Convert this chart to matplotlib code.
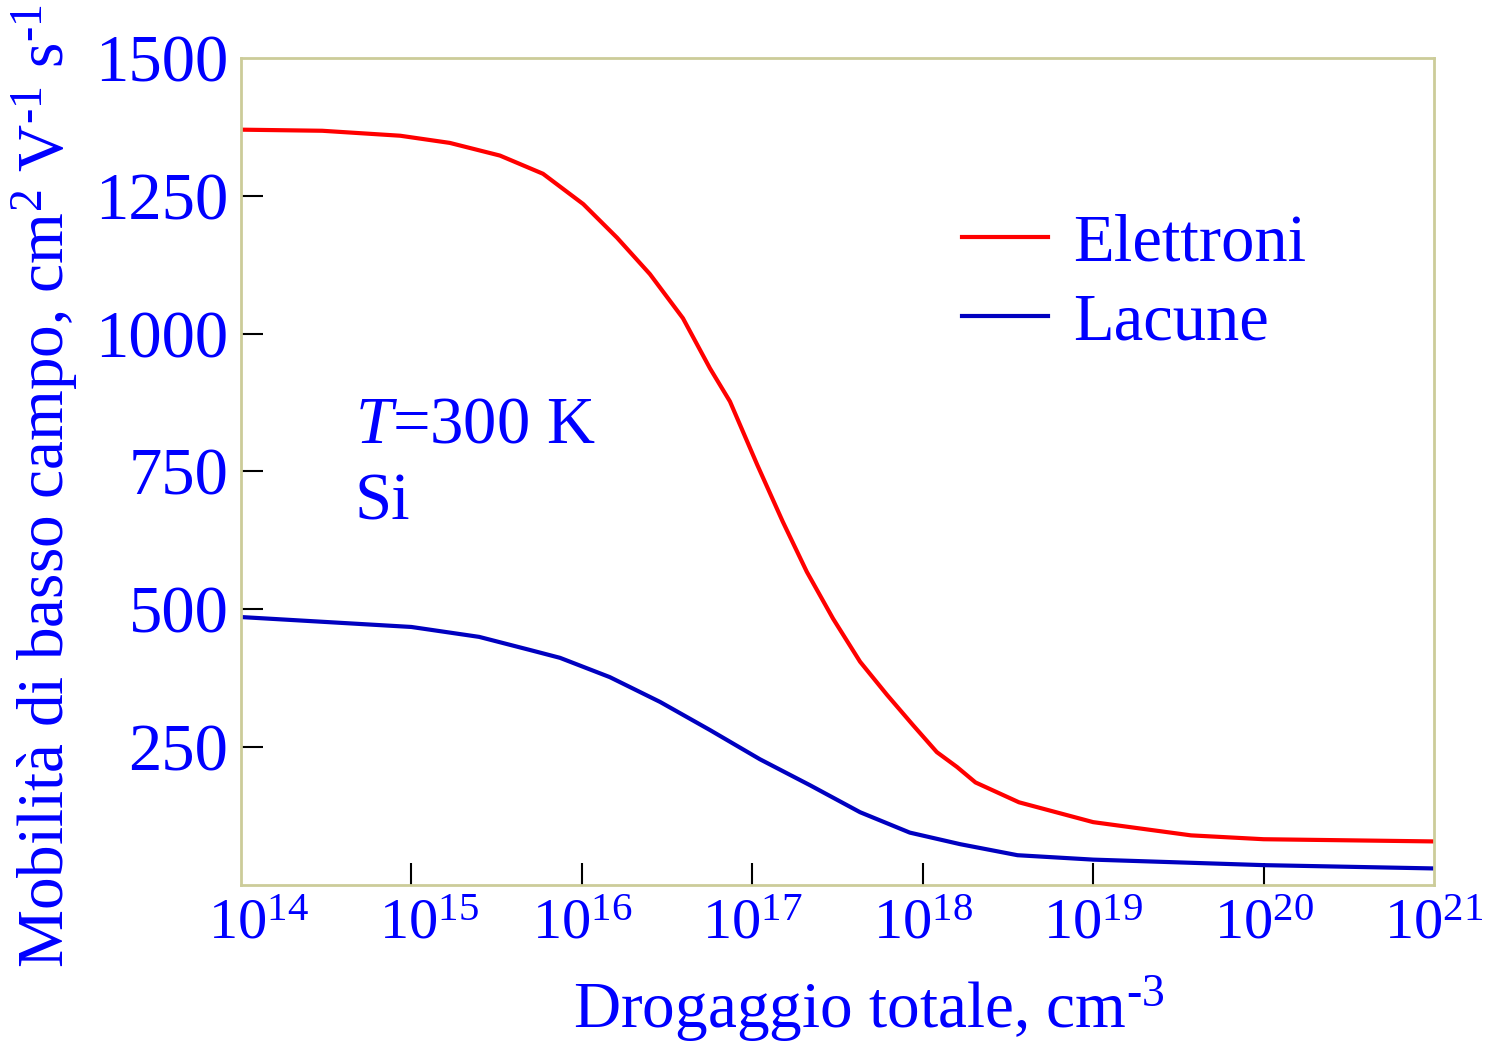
import numpy as np
import matplotlib
matplotlib.use("Agg")
import matplotlib.pyplot as plt
import matplotlib.transforms as mtransforms

# data (doping in cm^-3, mobility in cm^2 V^-1 s^-1)
doping_e = [1e14, 3e14, 8.6e14, 1.68e15, 3.31e15, 5.92e15, 1.02e16, 1.61e16,
            2.51e16, 3.92e16, 5.65e16, 7.4e16, 1.07e17, 1.51e17, 2.09e17,
            2.98e17, 4.29e17, 6.17e17, 8.77e17, 1.21e18, 1.59e18, 2.04e18,
            3.67e18, 1e19, 3.75e19, 1e20, 1e21]
mobility_e = [1370, 1368, 1359, 1346, 1323, 1290, 1235, 1174,
              1108, 1028, 937, 877, 762, 659, 568,
              483, 405, 345, 290, 241, 214, 186,
              150, 114, 90, 83, 79]

doping_h = [1e14, 1e15, 2.5e15, 5e15, 7.45e15, 1.46e16, 2.88e16, 5.65e16,
            1.11e17, 2.18e17, 4.29e17, 8.4e17, 1.66e18, 3.6e18, 1e19, 1e20, 1e21]
mobility_h = [486, 468, 450, 426, 412, 377, 332, 281,
              228, 181, 132, 95, 74, 54, 46, 36, 30]

y_ticks = [250, 500, 750, 1000, 1250, 1500]
x_ticks = [1e14, 1e15, 1e16, 1e17, 1e18, 1e19, 1e20, 1e21]
x_labels = [r"$10^{%d}$" % e for e in range(14, 22)]

plt.rcParams["font.family"] = ["Liberation Serif", "DejaVu Serif"]
plt.rcParams["mathtext.fontset"] = "custom"
plt.rcParams["mathtext.rm"] = "Liberation Serif"
plt.rcParams["mathtext.it"] = "Liberation Serif:italic"

text_blue = "#0000FF"
fs = 48

fig = plt.figure(figsize=(14.87, 10.43), dpi=100)
ax = fig.add_axes([0.162, 0.1515, 0.8024, 0.7929])

ax.plot(doping_e, mobility_e, color="#FF0000", lw=3, label="Elettroni")
ax.plot(doping_h, mobility_h, color="#0000C0", lw=3, label="Lacune")

ax.set_xscale("log")
ax.set_xlim(1e14, 1e21)
ax.set_ylim(0, 1500)
ax.set_xticks(x_ticks)
ax.set_xticklabels(x_labels)
ax.xaxis.set_minor_locator(matplotlib.ticker.NullLocator())
ax.set_yticks(y_ticks)

ax.tick_params(direction="in", length=16, width=1.5, color="black",
               labelcolor=text_blue, labelsize=fs, pad=9)
ax.tick_params(axis="x", labelsize=42, pad=10)
# the first two labels sit a bit to the right of their ticks in the original
shift = mtransforms.ScaledTranslation(0.18, 0, fig.dpi_scale_trans)
for lab in ax.get_xticklabels()[:2]:
    lab.set_transform(lab.get_transform() + shift)

# no tick marks on the frame corners
for t in (ax.xaxis.get_major_ticks()[0], ax.xaxis.get_major_ticks()[-1],
          ax.yaxis.get_major_ticks()[-1]):
    t.tick1line.set_visible(False)
for s in ax.spines.values():
    s.set_color("#CCCC99")
    s.set_linewidth(2)

ax.set_xlabel(r"Drogaggio totale, cm$^{\text{-}3}$", color=text_blue, fontsize=47)
ax.xaxis.set_label_coords(0.526, -0.107)
ax.set_ylabel(r"Mobilità di basso campo, cm$^{2}$ V$^{\text{-}1}$ s$^{\text{-}1}$",
              color=text_blue, fontsize=47)
ax.yaxis.set_label_coords(-0.135, 0.482)

ax.text(0.0955, 0.5345, "$T$=300 K", transform=ax.transAxes, color=text_blue,
        fontsize=fs, va="baseline", ha="left")
ax.text(0.0955, 0.4414, "Si", transform=ax.transAxes, color=text_blue,
        fontsize=fs, va="baseline", ha="left")

leg = ax.legend(loc="upper left", bbox_to_anchor=(0.604, 0.812), frameon=False,
                fontsize=fs, handlelength=1.3, handletextpad=0.37, labelspacing=0.27,
                borderpad=0, borderaxespad=0)
for t in leg.get_texts():
    t.set_color(text_blue)

plt.savefig("out.png", dpi=100)
plt.close()
